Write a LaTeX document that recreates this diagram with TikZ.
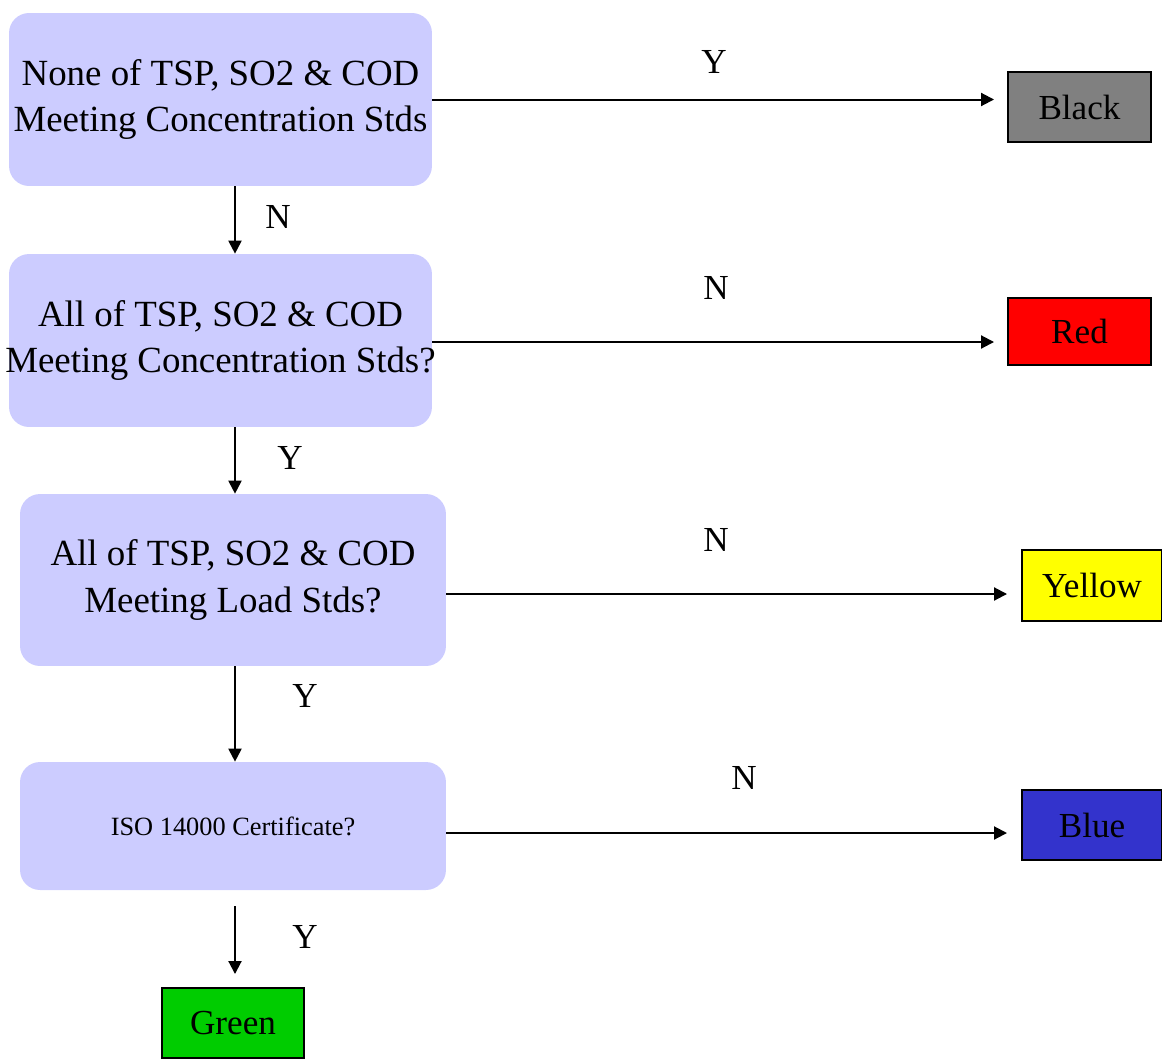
\documentclass[tikz,border=0pt]{standalone}
\usepackage{fontspec}
\setmainfont{Liberation Serif}
\usepackage{xcolor}
\usetikzlibrary{arrows.meta}

\definecolor{boxlav}{HTML}{CCCCFF}
\definecolor{blackgrey}{HTML}{808080}
\definecolor{ratered}{HTML}{FF0000}
\definecolor{rateyellow}{HTML}{FFFF00}
\definecolor{rateblue}{HTML}{3333CC}
\definecolor{rategreen}{HTML}{00CC00}

\begin{document}
\begin{tikzpicture}[x=0.02cm,y=-0.02cm,
    test/.style={rounded corners=0.4cm,fill=boxlav,minimum width=8.46cm,minimum height=3.46cm,
      align=center,inner sep=0pt,font=\fontsize{21}{26.5}\selectfont},
    rating/.style={draw=black,line width=0.04cm,minimum width=2.86cm,minimum height=1.4cm,
      inner sep=0pt,font=\fontsize{20}{24}\selectfont},
    arr/.style={line width=0.04cm,-{Triangle[length=0.26cm,width=0.26cm]}},
    lbl/.style={inner sep=0pt,font=\fontsize{20}{24}\selectfont}]
  \useasboundingbox (0,0) rectangle (1162,1058);
  % decision boxes
  \node[test] (none) at (220.5,99.5) {None of TSP, SO2 \& COD\\Meeting Concentration Stds};
  \node[test] (all) at (220.5,340.5)
    {All of TSP, SO2 \& COD\\\makebox[8.3cm]{Meeting Concentration Stds?}};
  \node[test,minimum width=8.52cm,minimum height=3.44cm] (load) at (233,580)
    {All of TSP, SO2 \& COD\\Meeting Load Stds?};
  \node[test,minimum width=8.52cm,minimum height=2.56cm,font=\fontsize{15}{18}\selectfont] (iso)
    at (233,826) {ISO 14000 Certificate?};
  % ratings
  \node[rating,fill=blackgrey] (black) at (1079.5,107) {Black};
  \node[rating,fill=ratered,minimum height=1.34cm] (red) at (1079.5,331.5) {Red};
  \node[rating,fill=rateyellow,minimum width=2.8cm,minimum height=1.42cm] (yellow) at (1092,585.5) {Yellow};
  \node[rating,fill=rateblue,minimum width=2.8cm] (blue) at (1092,825) {Blue};
  \node[rating,fill=rategreen,minimum width=2.84cm] (green) at (233,1023) {Green};
  % arrows to the right
  \draw[arr,shorten >=0.26cm] (none.east) -- (none.east -| black.west);
  \draw[arr,shorten >=0.26cm] ([yshift=-0.03cm]all.east) -- ([yshift=-0.03cm]all.east -| red.west);
  \draw[arr,shorten >=0.28cm] ([yshift=-0.28cm]load.east) -- ([yshift=-0.28cm]load.east -| yellow.west);
  \draw[arr,shorten >=0.28cm] ([yshift=-0.14cm]iso.east) -- ([yshift=-0.14cm]iso.east -| blue.west);
  % arrows down
  \draw[arr] ([xshift=0.29cm]none.south) -- ([xshift=0.29cm]all.north);
  \draw[arr] ([xshift=0.29cm]all.south) -- ([xshift=0.29cm]all.south |- load.north);
  \draw[arr] ([xshift=0.04cm]load.south) -- ([xshift=0.04cm]iso.north);
  \draw[arr,shorten <=0.32cm,shorten >=0.26cm] ([xshift=0.04cm]iso.south) -- ([xshift=0.04cm]green.north);
  % answers
  \node[lbl] (ynone) at (714,62) {Y};
  \node[lbl] (nall) at (716,288) {N};
  \node[lbl] (nload) at (716,540) {N};
  \node[lbl] (niso) at (744,778) {N};
  \node[lbl] (nnone) at (278,217) {N};
  \node[lbl] (yall) at (290,458) {Y};
  \node[lbl] (yload) at (305,696) {Y};
  \node[lbl] (yiso) at (305,937) {Y};
\end{tikzpicture}
\end{document}
